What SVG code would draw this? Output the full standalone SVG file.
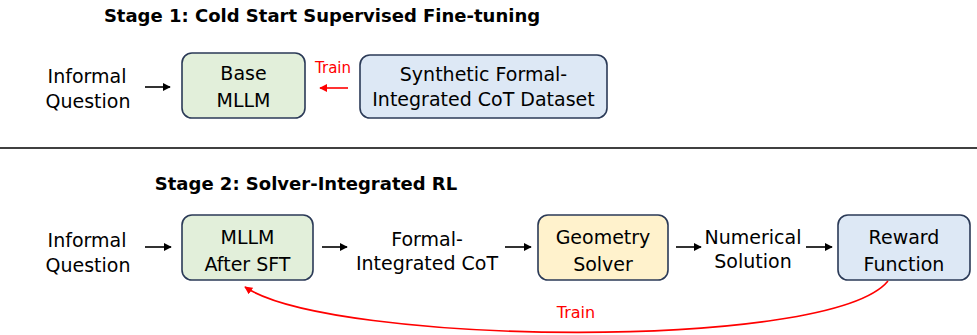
<svg xmlns="http://www.w3.org/2000/svg" width="977" height="335" viewBox="0 0 977 335">
<defs>
<marker id="ab" viewBox="0 0 10 10" refX="9" refY="5" markerWidth="5" markerHeight="5" orient="auto"><path d="M0,0 L10,5 L0,10 z" fill="#000"/></marker>
<marker id="ar" viewBox="0 0 10 10" refX="9" refY="5" markerWidth="5" markerHeight="5" orient="auto"><path d="M0,0 L10,5 L0,10 z" fill="#f00"/></marker>
</defs>
<style>
text{font-family:"Comic Sans MS","DejaVu Sans",sans-serif;font-size:19px;fill:#000;text-anchor:middle}
.title{font-weight:bold;font-size:18px}
.red{fill:#f00;font-size:15px}
.red2{fill:#f00;font-size:16px}
.box{stroke:#2b3a57;stroke-width:1.6}
.g{fill:#e2efda}
.b{fill:#dde8f5}
.y{fill:#fff2cc}
.c{stroke:#000;stroke-width:1.6;fill:none;marker-end:url(#ab)}
.cr{stroke:#f00;stroke-width:1.6;fill:none;marker-end:url(#ar)}
</style>
<rect width="977" height="335" fill="#fff"/>
<text class="title" x="322" y="22">Stage 1: Cold Start Supervised Fine-tuning</text>
<line x1="0" y1="148" x2="977" y2="148" stroke="#000" stroke-width="1.5"/>
<text class="title" x="306" y="190">Stage 2: Solver-Integrated RL</text>

<g id="s1-input"><text x="87" y="83">Informal</text><text x="88" y="108">Question</text></g>
<g id="s1-base"><rect class="box g" x="182" y="53" width="123" height="65" rx="10"/><text x="243.5" y="80">Base</text><text x="243.5" y="107">MLLM</text></g>
<g id="s1-data"><rect class="box b" x="360" y="55" width="247" height="63" rx="10"/><text x="483.5" y="81">Synthetic Formal-</text><text x="483.5" y="106">Integrated CoT Dataset</text></g>

<g id="s2-input"><text x="87" y="247">Informal</text><text x="88" y="272">Question</text></g>
<g id="s2-mllm"><rect class="box g" x="182" y="215" width="131" height="65" rx="10"/><text x="247.5" y="244">MLLM</text><text x="247.5" y="271">After SFT</text></g>
<g id="s2-cot"><text x="427" y="246">Formal-</text><text x="427" y="270">Integrated CoT</text></g>
<g id="s2-solver"><rect class="box y" x="538" y="215" width="130" height="65" rx="10"/><text x="603" y="244">Geometry</text><text x="603" y="271">Solver</text></g>
<g id="s2-num"><text x="753" y="244">Numerical</text><text x="753" y="268">Solution</text></g>
<g id="s2-reward"><rect class="box b" x="838" y="215" width="132" height="65" rx="10"/><text x="904" y="244">Reward</text><text x="904" y="271">Function</text></g>

<g id="connectors">
<line class="c" x1="145" y1="87" x2="170" y2="87"/>
<line class="cr" x1="348" y1="88" x2="320" y2="88"/>
<text class="red" x="333" y="73">Train</text>
<line class="c" x1="145" y1="247" x2="171" y2="247"/>
<line class="c" x1="322" y1="247" x2="347" y2="247"/>
<line class="c" x1="505" y1="247" x2="531" y2="247"/>
<line class="c" x1="676" y1="247" x2="701" y2="247"/>
<line class="c" x1="806" y1="247" x2="832" y2="247"/>
<path class="cr" d="M888,281 C830,352 330,345 245,287"/>
<text class="red2" x="576" y="318">Train</text>
</g>
</svg>
